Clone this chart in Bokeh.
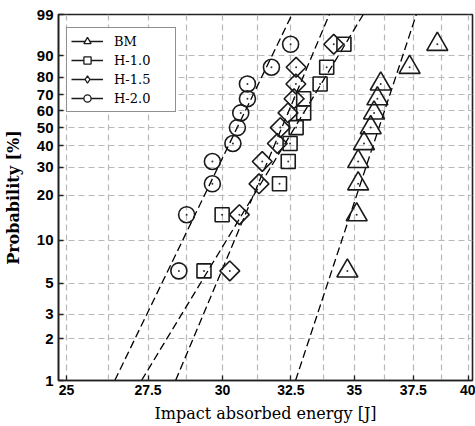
import numpy as np
from bokeh.plotting import figure
from bokeh.models import (Range1d, FixedTicker, CustomJSTickFormatter, Legend,
                          LegendItem, ColumnDataSource)
from bokeh.embed import file_html
from bokeh.resources import INLINE

# ---- data ----
prob = [6.1, 14.9, 23.7, 32.5, 41.2, 50.0, 58.8, 67.5, 76.3, 85.1, 93.9]  # cumulative probability [%]
bm = [34.72, 35.10, 35.16, 35.16, 35.40, 35.68, 35.82, 35.96, 36.10, 37.34, 38.57]
h10 = [29.36, 29.99, 32.07, 32.40, 32.47, 32.70, 32.99, 32.99, 33.63, 33.89, 34.58]
h15 = [30.26, 30.60, 31.31, 31.43, 31.99, 32.10, 32.39, 32.62, 32.69, 32.70, 34.17]
h20 = [28.51, 28.77, 29.65, 29.65, 30.37, 30.53, 30.65, 30.89, 30.89, 31.77, 32.49]

series_names = ["BM", "H-1.0", "H-1.5", "H-2.0"]
x_ticks = [25, 27.5, 30, 32.5, 35, 37.5, 40]
x_grid = [25, 26.25, 27.5, 28.75, 30, 31.25, 32.5, 33.75, 35, 36.25, 37.5, 38.75, 40]
y_ticks_pct = [1, 2, 3, 5, 10, 20, 30, 40, 50, 60, 70, 80, 90, 99]


def weib(p_pct):
    p = np.asarray(p_pct, dtype=float) / 100.0
    return np.log(-np.log(1.0 - p))


yu = weib(prob)
y_lo, y_hi = weib([1])[0], weib([99])[0]

p = figure(width=475, height=426, output_backend="svg", toolbar_location=None,
           x_axis_type="log",
           x_range=Range1d(24.767, 40.19), y_range=Range1d(y_lo, y_hi),
           min_border_left=58, min_border_right=3, min_border_top=14,
           min_border_bottom=46, background_fill_color="white",
           border_fill_color="white")

p.outline_line_color = "#222222"
p.outline_line_width = 1.6

# axes
p.xaxis.ticker = FixedTicker(ticks=x_ticks, minor_ticks=[])
p.xaxis.formatter = CustomJSTickFormatter(code="return String(+tick.toFixed(2));")
p.yaxis.ticker = FixedTicker(ticks=list(weib(y_ticks_pct)), minor_ticks=[])
p.yaxis.formatter = CustomJSTickFormatter(
    code="return String(Math.round(100*(1-Math.exp(-Math.exp(tick)))));")

for ax in (p.xaxis[0], p.yaxis[0]):
    ax.axis_line_color = "#222222"
    ax.axis_line_width = 1.6
    ax.major_tick_in = 5
    ax.major_tick_out = 0
    ax.major_tick_line_color = "#222222"
    ax.major_tick_line_width = 1.3
    ax.minor_tick_line_color = None
    ax.major_label_text_font = "Liberation Sans"
    ax.major_label_text_font_style = "bold"
    ax.major_label_text_color = "black"

p.xaxis.major_label_text_font_size = "14px"
p.yaxis.major_label_text_font_size = "15px"
p.xaxis.major_label_standoff = 4
p.yaxis.major_label_standoff = 5

p.xaxis.axis_label = "Impact absorbed energy [J]"
p.xaxis.axis_label_text_font = "DejaVu Serif"
p.xaxis.axis_label_text_font_style = "normal"
p.xaxis.axis_label_text_font_size = "16px"
p.xaxis.axis_label_text_color = "black"
p.xaxis.axis_label_standoff = 6

p.yaxis.axis_label = "Probability [%]"
p.yaxis.axis_label_text_font = "DejaVu Serif"
p.yaxis.axis_label_text_font_style = "bold"
p.yaxis.axis_label_text_font_size = "16px"
p.yaxis.axis_label_text_color = "black"
p.yaxis.axis_label_standoff = 11

# grid
p.xgrid.ticker = FixedTicker(ticks=x_grid, minor_ticks=[])
p.ygrid.ticker = FixedTicker(ticks=list(weib(y_ticks_pct)), minor_ticks=[])
for g in (p.xgrid[0], p.ygrid[0]):
    g.grid_line_color = "#b8b8b8"
    g.grid_line_dash = "6 4"
    g.grid_line_width = 1.2

marker_specs = [
    (bm, "triangle", 21, 0.0, "triangle"),
    (h10, "square", 14, 0.0, "square"),
    (h15, "square", 14, np.pi / 4, "diamond"),
    (h20, "circle", 16, 0.0, "circle"),
]

items = []
for name, (xs, mk, sz, ang, legend_mk) in zip(series_names, marker_specs):
    xs = np.asarray(xs, dtype=float)
    # least-squares Weibull fit line (ln x on Weibull ordinate)
    coef = np.polyfit(yu, np.log(xs), 1)
    y_ends = np.array([y_lo, y_hi])
    x_ends = np.exp(np.polyval(coef, y_ends))
    p.line(x_ends, y_ends, line_color="black", line_width=1.3, line_dash="8 4")

    src = ColumnDataSource(dict(x=xs, y=yu))
    p.scatter("x", "y", source=src, marker=mk, size=sz, angle=ang,
              fill_alpha=0, line_color="#1a1a1a", line_width=1.6)
    p.scatter("x", "y", source=src, marker="circle", size=2,
              fill_color="#333333", line_color=None)

    # legend-only glyphs (no visible data)
    nan_src = ColumnDataSource(dict(x=[np.nan], y=[np.nan]))
    dl = p.line("x", "y", source=nan_src, line_color="#1a1a1a", line_width=1.3)
    dm = p.scatter("x", "y", source=nan_src, marker=legend_mk,
                   fill_color="white", line_color="#1a1a1a", line_width=1.3)
    items.append(LegendItem(label=name, renderers=[dl, dm]))

legend = Legend(items=items, location=(8, 268), margin=0,
                padding=4, spacing=1, glyph_height=18, label_height=18,
                glyph_width=32, label_standoff=11, label_width=57,
                border_line_color="#222222", border_line_width=1.5,
                background_fill_color="white", background_fill_alpha=1.0,
                label_text_font="DejaVu Serif", label_text_font_size="13px",
                label_text_color="black")
p.add_layout(legend)

open("out.html", "w").write(file_html(p, INLINE))
